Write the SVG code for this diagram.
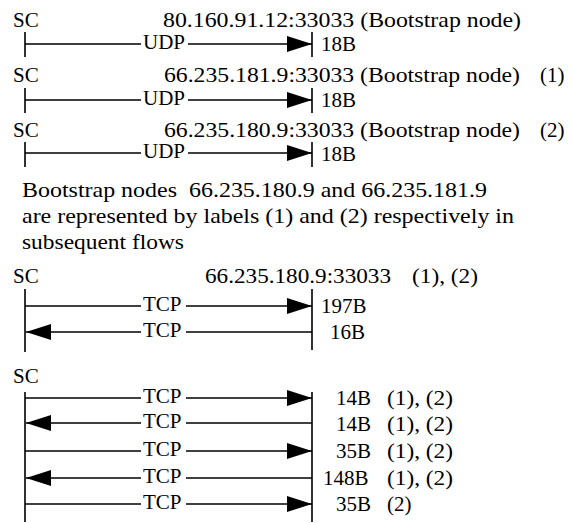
<svg xmlns="http://www.w3.org/2000/svg" width="573" height="523" viewBox="0 0 573 523">
<style>
text{font-family:"Liberation Serif","Times New Roman","DejaVu Serif",serif;font-size:21px;fill:#000}
.ln{stroke:#000;stroke-width:1.6;fill:none}
.ar{stroke:#000;stroke-width:1.6;fill:none;marker-end:url(#ah)}
</style>
<defs>
<marker id="ah" markerUnits="userSpaceOnUse" markerWidth="25" markerHeight="16" refX="25" refY="8" orient="auto"><path d="M0,0 L25,8 L0,16 z" fill="#000"/></marker>
</defs>
<rect width="573" height="523" fill="#fff"/>
<g id="block1">
<text x="13" y="27">SC</text>
<text x="163" y="27" textLength="358" lengthAdjust="spacingAndGlyphs">80.160.91.12:33033 (Bootstrap node)</text>
<text x="143" y="49">UDP</text>
<text x="321" y="51">18B</text>
</g>
<g id="block2">
<text x="13" y="82">SC</text>
<text x="164" y="82" textLength="356" lengthAdjust="spacingAndGlyphs">66.235.181.9:33033 (Bootstrap node)</text>
<text x="540" y="82">(1)</text>
<text x="143" y="105">UDP</text>
<text x="321" y="107">18B</text>
</g>
<g id="block3">
<text x="13" y="137">SC</text>
<text x="164" y="137" textLength="356" lengthAdjust="spacingAndGlyphs">66.235.180.9:33033 (Bootstrap node)</text>
<text x="540" y="137">(2)</text>
<text x="143" y="158">UDP</text>
<text x="321" y="161">18B</text>
</g>
<g id="note">
<text x="22" y="197" textLength="465" lengthAdjust="spacingAndGlyphs" xml:space="preserve">Bootstrap nodes  66.235.180.9 and 66.235.181.9</text>
<text x="22" y="223" textLength="492" lengthAdjust="spacingAndGlyphs">are represented by labels (1) and (2) respectively in</text>
<text x="22" y="249" textLength="162" lengthAdjust="spacingAndGlyphs">subsequent flows</text>
</g>
<g id="block4">
<text x="13" y="283">SC</text>
<text x="205" y="283" textLength="186" lengthAdjust="spacingAndGlyphs">66.235.180.9:33033</text>
<text x="412" y="283" textLength="66" lengthAdjust="spacingAndGlyphs">(1), (2)</text>
<text x="143" y="311">TCP</text>
<text x="143" y="337">TCP</text>
<text x="321" y="313">197B</text>
<text x="330" y="339">16B</text>
</g>
<g id="block5">
<text x="13" y="383">SC</text>
<text x="143" y="403">TCP</text>
<text x="143" y="428">TCP</text>
<text x="143" y="456">TCP</text>
<text x="143" y="483">TCP</text>
<text x="143" y="509">TCP</text>
<text x="336" y="405">14B</text>
<text x="336" y="431">14B</text>
<text x="336" y="458">35B</text>
<text x="323" y="485">148B</text>
<text x="336" y="511">35B</text>
<text x="387" y="405" textLength="66" lengthAdjust="spacingAndGlyphs">(1), (2)</text>
<text x="387" y="431" textLength="66" lengthAdjust="spacingAndGlyphs">(1), (2)</text>
<text x="387" y="458" textLength="66" lengthAdjust="spacingAndGlyphs">(1), (2)</text>
<text x="387" y="485" textLength="66" lengthAdjust="spacingAndGlyphs">(1), (2)</text>
<text x="387" y="511">(2)</text>
</g>
<g id="connectors">
<path class="ln" d="M25,32 V57 M312,32 V57 M25,44 H141"/>
<path class="ar" d="M188,44 H312"/>
<path class="ln" d="M25,88 V113 M312,88 V113 M25,100 H141"/>
<path class="ar" d="M188,100 H312"/>
<path class="ln" d="M25,142 V167 M312,142 V167 M25,153 H141"/>
<path class="ar" d="M188,153 H312"/>
<path class="ln" d="M25,289 V352 M312,289 V350"/>
<path class="ln" d="M25,306 H141"/>
<path class="ar" d="M186,306 H312"/>
<path class="ln" d="M312,332 H186"/>
<path class="ar" d="M141,332 H26"/>
<path class="ln" d="M25,392 V522 M312,392 V522"/>
<path class="ln" d="M25,398 H141"/>
<path class="ar" d="M186,398 H312"/>
<path class="ln" d="M312,423 H186"/>
<path class="ar" d="M141,423 H26"/>
<path class="ln" d="M25,451 H141"/>
<path class="ar" d="M186,451 H312"/>
<path class="ln" d="M312,478 H186"/>
<path class="ar" d="M141,478 H26"/>
<path class="ln" d="M25,504 H141"/>
<path class="ar" d="M186,504 H312"/>
</g>
</svg>
